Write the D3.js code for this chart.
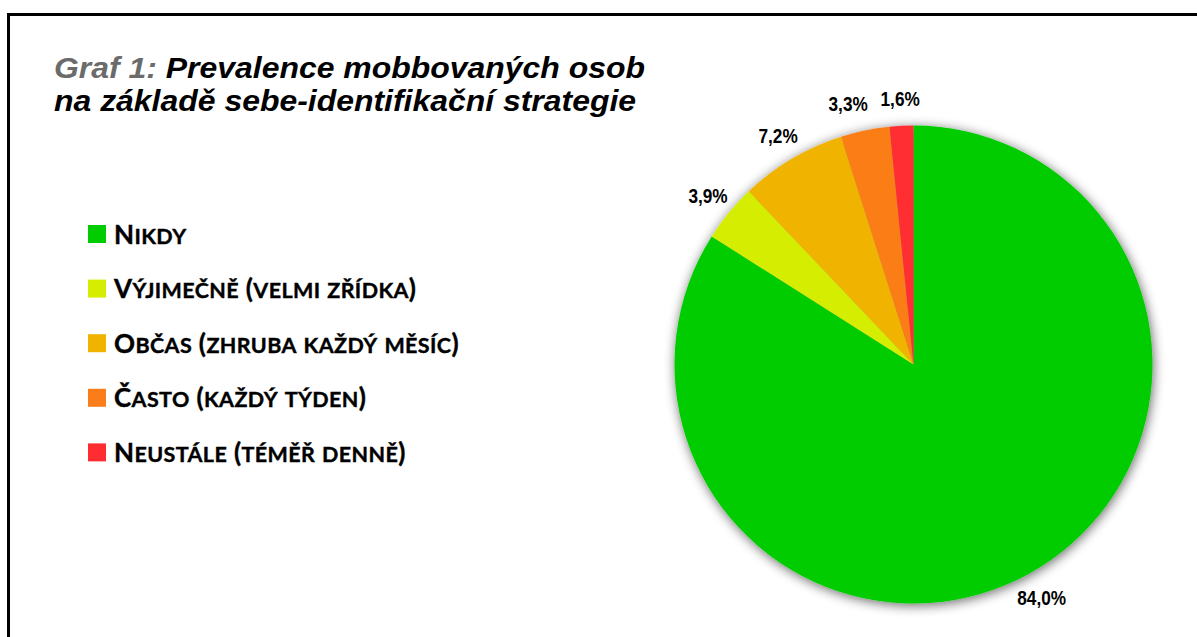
<!DOCTYPE html>
<html>
<head>
<meta charset="utf-8">
<script src="https://cdn.jsdelivr.net/npm/d3@7"></script>
<style>
  body { margin: 0; background: #fff; }
  svg { display: block; }
</style>
</head>
<body>
<svg width="1197" height="637"></svg>
<script>
const categories = ['Nikdy', 'Výjimečně (velmi zřídka)', 'Občas (zhruba každý měsíc)', 'Často (každý týden)', 'Neustále (téměř denně)'];
const values = [84.0, 3.9, 7.2, 3.3, 1.6];
const colors = ['#00cc00', '#d4ed00', '#f0b400', '#fa7d19', '#ff2d32'];
const titlePrefix = 'Graf 1:';
const titleLines = ['Prevalence mobbovaných osob', 'na základě sebe-identifikační strategie'];

(function (d3) {
  'use strict';
  const svg = d3.select('svg');
  const width = +svg.attr('width');
  const height = +svg.attr('height');

  const data = categories.map((c, i) => ({ name: c, value: values[i], color: colors[i] }));

  // shadow filter
  const defs = svg.append('defs');
  const f = defs.append('filter').attr('id', 'shadow')
    .attr('x', '-20%').attr('y', '-20%').attr('width', '140%').attr('height', '140%');
  f.append('feGaussianBlur').attr('in', 'SourceAlpha').attr('stdDeviation', 6).attr('result', 'blur');
  f.append('feOffset').attr('in', 'blur').attr('dx', 1).attr('dy', 2).attr('result', 'off');
  f.append('feComponentTransfer').attr('in', 'off').attr('result', 'sh')
    .append('feFuncA').attr('type', 'linear').attr('slope', 0.6);
  const merge = f.append('feMerge');
  merge.append('feMergeNode').attr('in', 'sh');
  merge.append('feMergeNode').attr('in', 'SourceGraphic');

  // frame
  svg.append('rect')
    .attr('x', 8.5).attr('y', 14.5)
    .attr('width', width + 20).attr('height', height + 20)
    .attr('fill', 'none').attr('stroke', '#000').attr('stroke-width', 3);

  // title (stretched a bit to match the original's wide lettering)
  const titleX = 54, titleW = 591;
  const titleG = svg.append('g');
  const title = titleG.append('text')
    .attr('font-family', '"Liberation Sans", Arial, sans-serif')
    .attr('font-weight', 'bold').attr('font-style', 'italic')
    .attr('font-size', 29);
  const l1 = title.append('tspan').attr('x', titleX).attr('y', 78);
  l1.append('tspan').attr('fill', '#6b6b6b').text(titlePrefix + ' ');
  l1.append('tspan').attr('fill', '#000').text(titleLines[0]);
  const l2 = title.append('tspan').attr('x', titleX).attr('y', 111).attr('fill', '#000').text(titleLines[1]);
  const w1 = l1.node().getComputedTextLength();
  const sx = titleW / w1;
  titleG.attr('transform', `translate(${titleX},0) scale(${sx},1) translate(${-titleX},0)`);

  // legend
  const legendX = 88, legendY = 225, legendStep = 54.6;
  const capSize = 26, smallSize = 21.5;
  const lg = svg.append('g').attr('transform', `translate(${legendX},${legendY})`);
  const item = lg.selectAll('g.item').data(data).enter().append('g')
    .attr('class', 'item')
    .attr('transform', (d, i) => `translate(0,${i * legendStep})`);
  item.append('rect').attr('width', 18).attr('height', 18).attr('fill', d => d.color);
  const lt = item.append('text')
    .attr('x', 26).attr('y', 18.5)
    .attr('font-family', 'Lato, "Open Sans", sans-serif')
    .attr('font-weight', 'bold').attr('fill', '#000')
    .attr('letter-spacing', 0.4)
    .attr('stroke', '#000').attr('stroke-width', 0.4);
  lt.each(function (d) {
    // small caps: lowercase runs drawn as smaller capitals
    const runs = [];
    for (const ch of d.name) {
      const lower = ch !== ch.toUpperCase();
      const last = runs[runs.length - 1];
      if (last && last.lower === lower) last.s += ch;
      else runs.push({ lower, s: ch });
    }
    d3.select(this).selectAll('tspan').data(runs).enter().append('tspan')
      .attr('font-size', r => r.lower ? smallSize : capSize)
      .text(r => r.s.toUpperCase());
  });

  // pie
  const cx = 913.5, cy = 364.5, r = 239;
  const pie = d3.pie().sort(null).value(d => d.value);
  const arc = d3.arc().innerRadius(0).outerRadius(r);
  const labelR = r + 27;
  const labelArc = d3.arc().innerRadius(labelR).outerRadius(labelR);
  const arcs = pie(data);

  const pg = svg.append('g').attr('transform', `translate(${cx},${cy})`);
  pg.append('g').attr('filter', 'url(#shadow)')
    .selectAll('path').data(arcs).enter().append('path')
    .attr('d', arc)
    .attr('fill', d => d.data.color);

  // label positions, pushed apart leftwards where they would collide
  const pos = arcs.map(d => labelArc.centroid(d));
  const minGap = 52;
  for (let i = pos.length - 2; i >= 1; i--) {
    const a = pos[i], b = pos[i + 1];
    if (Math.abs(a[1] - b[1]) < 22 && a[0] > b[0] - minGap) a[0] = b[0] - minGap;
  }

  const fmt = v => v.toFixed(1).replace('.', ',') + '%';
  pg.selectAll('text.lbl').data(arcs).enter().append('text')
    .attr('class', 'lbl')
    .attr('transform', (d, i) => `translate(${pos[i]}) scale(0.82,1)`)
    .attr('text-anchor', 'middle').attr('dy', '0.35em')
    .attr('font-family', '"Liberation Sans Narrow", "Arial Narrow", "Liberation Sans", sans-serif')
    .attr('font-weight', 'bold').attr('font-size', 21)
    .text(d => fmt(d.data.value));
}(d3));
</script>
</body>
</html>
